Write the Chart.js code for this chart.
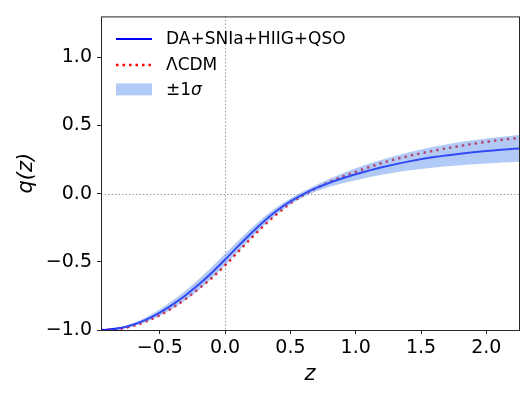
<!DOCTYPE html>
<html lang="en">
<head>
    <meta charset="UTF-8">
    <title>q(z)</title>
    <script src="https://cdn.jsdelivr.net/npm/chart.js"></script>
    <style>
        html, body { margin: 0; padding: 0; background: #fff; }
        #wrap { width: 531px; height: 399px; position: relative; }
    </style>
</head>
<body>
    <div id="wrap"><canvas id="qChart"></canvas></div>

    <script>
        // redshift grid
        const zValues = [-0.95, -0.9, -0.8, -0.7, -0.6, -0.5, -0.4, -0.3, -0.2, -0.1, 0.0, 0.1, 0.2, 0.3, 0.4, 0.5, 0.6, 0.7, 0.8, 0.9, 1.0, 1.2, 1.4, 1.6, 1.8, 2.0, 2.25];
        // best fit DA+SNIa+HIIG+QSO
        const qBest  = [-1.0, -0.998, -0.986, -0.96, -0.922, -0.872, -0.812, -0.743, -0.665, -0.578, -0.483, -0.385, -0.29, -0.2, -0.122, -0.057, -0.003, 0.042, 0.08, 0.113, 0.142, 0.193, 0.235, 0.268, 0.293, 0.313, 0.332];
        // 1 sigma band
        const qUpper = [-1.0, -0.996, -0.98, -0.948, -0.904, -0.848, -0.782, -0.708, -0.626, -0.537, -0.441, -0.345, -0.254, -0.169, -0.096, -0.035, 0.018, 0.066, 0.11, 0.15, 0.186, 0.248, 0.301, 0.344, 0.378, 0.405, 0.43];
        const qLower = [-1.0, -1.0, -0.992, -0.972, -0.94, -0.896, -0.842, -0.778, -0.704, -0.619, -0.525, -0.425, -0.326, -0.231, -0.148, -0.079, -0.024, 0.018, 0.05, 0.076, 0.098, 0.138, 0.169, 0.192, 0.208, 0.221, 0.234];
        // LCDM
        const qLcdm  = [-1.0, -0.999, -0.99, -0.968, -0.935, -0.89, -0.835, -0.77, -0.695, -0.615, -0.525, -0.425, -0.325, -0.23, -0.145, -0.07, -0.01, 0.042, 0.087, 0.126, 0.16, 0.225, 0.275, 0.315, 0.35, 0.38, 0.41];

        const xTicks = [-0.5, 0.0, 0.5, 1.0, 1.5, 2.0];
        const yTicks = [-1.0, -0.5, 0.0, 0.5, 1.0];

        const FONT = "'DejaVu Sans', sans-serif";
        const BAND = 'rgba(100,149,237,0.5)';
        const pts = arr => zValues.map((z, i) => ({ x: z, y: arr[i] }));
        const fmt = v => (v < 0 ? '\u2212' : '') + Math.abs(v).toFixed(1);

        // dotted zero lines, frame, legend
        const framePlugin = {
            id: 'frame',
            beforeDatasetsDraw(chart) {
                const { ctx, chartArea: a, scales: { x, y } } = chart;
                ctx.save();
                ctx.strokeStyle = '#9a9a9a';
                ctx.lineWidth = 1;
                ctx.setLineDash([1.5, 2]);
                const x0 = Math.round(x.getPixelForValue(0)) + 0.5;
                const y0 = Math.round(y.getPixelForValue(0)) + 0.5;
                ctx.beginPath();
                ctx.moveTo(x0, a.top); ctx.lineTo(x0, a.bottom);
                ctx.moveTo(a.left, y0); ctx.lineTo(a.right, y0);
                ctx.stroke();
                ctx.restore();
            },
            afterDraw(chart) {
                const { ctx, chartArea: a } = chart;
                ctx.save();
                ctx.strokeStyle = '#262626';
                ctx.lineWidth = 1;
                ctx.strokeRect(a.left + 0.5, a.top + 0.5, a.right - a.left, a.bottom - a.top);

                // legend
                const lx = a.left + 15, tx = a.left + 65;
                ctx.font = '17px ' + FONT;
                ctx.fillStyle = '#000';
                ctx.textBaseline = 'middle';

                ctx.strokeStyle = '#0000ff';
                ctx.lineWidth = 2;
                ctx.beginPath(); ctx.moveTo(lx, a.top + 22.5); ctx.lineTo(lx + 36, a.top + 22.5); ctx.stroke();
                ctx.fillText('DA+SNIa+HIIG+QSO', tx, a.top + 23);

                ctx.strokeStyle = '#ff0000';
                ctx.lineWidth = 2.5;
                ctx.setLineDash([2.5, 4]);
                ctx.beginPath(); ctx.moveTo(lx, a.top + 48.5); ctx.lineTo(lx + 36, a.top + 48.5); ctx.stroke();
                ctx.setLineDash([]);
                ctx.fillText('\u039BCDM', tx, a.top + 49);

                ctx.fillStyle = BAND;
                ctx.fillRect(lx, a.top + 67, 36, 12);
                ctx.fillStyle = '#000';
                ctx.fillText('\u00B11', tx, a.top + 74);
                const w = ctx.measureText('\u00B11').width;
                ctx.font = 'italic 17px ' + FONT;
                ctx.fillText('\u03C3', tx + w, a.top + 74);
                ctx.restore();
            }
        };

        const curve = { pointRadius: 0, fill: false, cubicInterpolationMode: 'monotone' };

        new Chart(document.getElementById('qChart'), {
            type: 'line',
            data: {
                datasets: [
                    { ...curve, label: 'upper', data: pts(qUpper), borderWidth: 0, backgroundColor: BAND, fill: '+1' },
                    { ...curve, label: 'lower', data: pts(qLower), borderWidth: 0 },
                    { ...curve, label: 'DA+SNIa+HIIG+QSO', data: pts(qBest), borderColor: '#0000ff', borderWidth: 2 },
                    { ...curve, label: '\u039BCDM', data: pts(qLcdm), borderColor: '#ff0000', borderWidth: 2.5, borderDash: [2.5, 4] }
                ]
            },
            options: {
                responsive: true,
                maintainAspectRatio: false,
                animation: false,
                layout: { padding: { top: 12, right: 12, left: 0, bottom: 0 } },
                plugins: { legend: { display: false }, tooltip: { enabled: false } },
                scales: {
                    x: {
                        type: 'linear',
                        min: -0.95,
                        max: 2.25,
                        afterBuildTicks: s => { s.ticks = xTicks.map(v => ({ value: v })); },
                        afterFit: s => { s.height = 69; },
                        grid: { display: true, drawOnChartArea: false, drawTicks: true, tickLength: 4, tickColor: '#262626' },
                        border: { display: false },
                        ticks: { color: '#000', font: { family: FONT, size: 19 }, padding: 3, maxRotation: 0, callback: fmt },
                        title: {
                            display: true,
                            text: 'z',
                            color: '#000',
                            font: { family: FONT, size: 21, style: 'italic' },
                            padding: { top: 0, bottom: 12 }
                        }
                    },
                    y: {
                        type: 'linear',
                        min: -1.0,
                        max: 1.3,
                        afterBuildTicks: s => { s.ticks = yTicks.map(v => ({ value: v })); },
                        afterFit: s => { s.width = 101; },
                        grid: { display: true, drawOnChartArea: false, drawTicks: true, tickLength: 4, tickColor: '#262626' },
                        border: { display: false },
                        ticks: { color: '#000', font: { family: FONT, size: 19 }, padding: 5, callback: fmt },
                        title: {
                            display: true,
                            text: 'q(z)',
                            color: '#000',
                            font: { family: FONT, size: 21, style: 'italic' },
                            padding: { top: 14 }
                        }
                    }
                }
            },
            plugins: [framePlugin]
        });
    </script>
</body>
</html>
